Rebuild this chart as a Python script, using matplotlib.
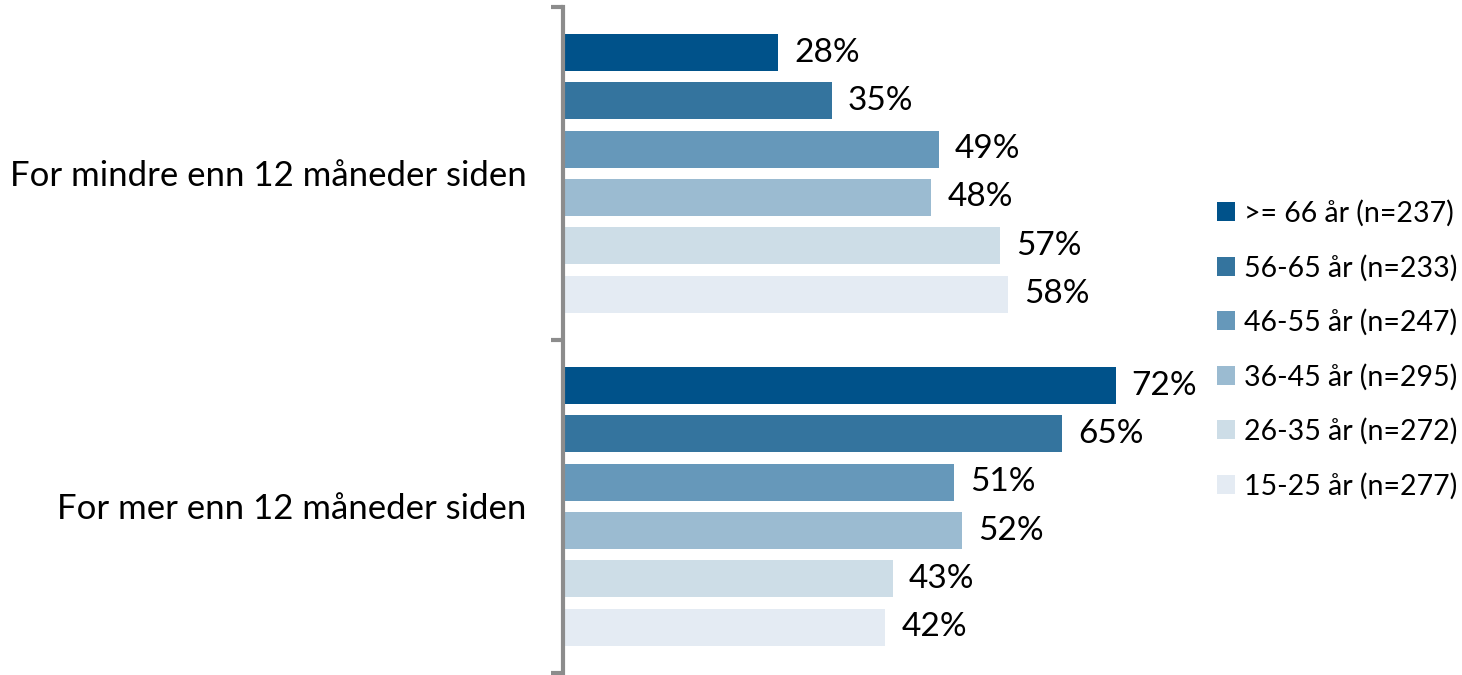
import matplotlib
matplotlib.use("Agg")
import matplotlib.pyplot as plt
from matplotlib.patches import Patch
import numpy as np

plt.rcParams['font.family'] = ['Lato', 'DejaVu Sans']

# data
categories = ["For mindre enn 12 måneder siden", "For mer enn 12 måneder siden"]
series = [">= 66 år (n=237)", "56-65 år (n=233)", "46-55 år (n=247)",
          "36-45 år (n=295)", "26-35 år (n=272)", "15-25 år (n=277)"]
values = [
    [28, 72],
    [35, 65],
    [49, 51],
    [48, 52],
    [57, 43],
    [58, 42],
]
colors = ["#00528a", "#34749e", "#6698ba", "#9bbbd1", "#cddde7", "#e4ebf3"]

fig = plt.figure(figsize=(14.62, 6.75), dpi=100)
ax = fig.add_axes([0.385, 0.003, 0.42, 0.987])

step = 0.145
bar_h = 0.111
for i, (name, vals) in enumerate(zip(series, values)):
    for c, v in enumerate(vals):
        y = c + 0.5 - 2.5 * step + i * step
        ax.barh(y, v, height=bar_h, color=colors[i], left=0)
        ax.text(v + 2.1, y, f"{v}%", va="center", ha="left", fontsize=24)

ax.set_xlim(0, 80)
ax.set_ylim(2, 0)

# bracket-style axis: ticks at group edges, labels at centres
ax.set_yticks([0, 1, 2])
ax.set_yticklabels([])
ax.set_yticks([0.5, 1.5], minor=True)
ax.set_yticklabels(categories, minor=True, fontsize=25)
ax.tick_params(axis="y", which="major", length=9, width=3, color="#8c8c8c")
ax.tick_params(axis="y", which="minor", length=0, pad=26)
ax.set_xticks([])

for s in ["top", "right", "bottom"]:
    ax.spines[s].set_visible(False)
ax.spines["left"].set_color("#8c8c8c")
ax.spines["left"].set_linewidth(3)

handles = [Patch(facecolor=c, edgecolor="none") for c in colors]
fig.legend(handles, series, loc="center left", bbox_to_anchor=(0.8245, 0.482),
           frameon=False, fontsize=20.5, handlelength=0.65, handleheight=0.65,
           handletextpad=0.3, labelspacing=0.97, borderaxespad=0.0)

fig.savefig("out.png", dpi=100)
